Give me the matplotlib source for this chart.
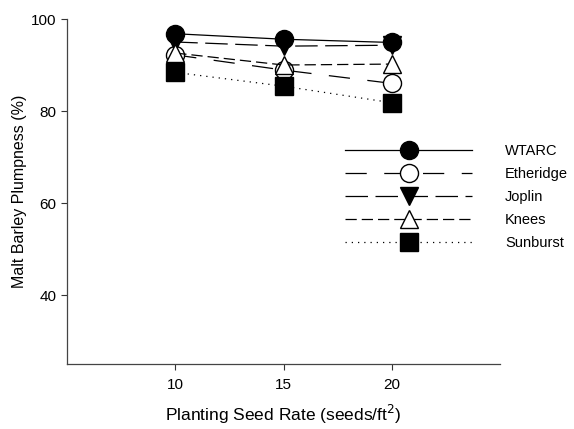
import matplotlib
matplotlib.use("Agg")
from matplotlib import pyplot as plt

plt.rcParams['font.family'] = ['Liberation Sans', 'DejaVu Sans']

rates = [10, 15, 20]
wtarc = [96.8, 95.6, 94.9]
etheridge = [92.2, 88.9, 86.0]
joplin = [95.0, 94.1, 94.3]
knees = [92.6, 90.0, 90.2]
sunburst = [88.4, 85.4, 81.8]

names = ['WTARC', 'Etheridge', 'Joplin', 'Knees', 'Sunburst']

fig = plt.figure(figsize=(5.74, 4.29), dpi=100)
ax = fig.add_axes([0.1167, 0.1515, 0.7545, 0.8042])

ms = 13
ax.plot(rates, wtarc, color='black', lw=0.9, marker='o', ms=ms,
        mfc='black', mec='black', label=names[0])
ax.plot(rates, etheridge, color='black', lw=0.9, dashes=(17, 14), marker='o', ms=ms,
        mfc='white', mec='black', label=names[1])
ax.plot(rates, joplin, color='black', lw=0.9, dashes=(18, 6), marker='v', ms=ms,
        mfc='black', mec='black', label=names[2])
ax.plot(rates, knees, color='black', lw=0.9, dashes=(9, 4), marker='^', ms=ms,
        mfc='white', mec='black', label=names[3])
ax.plot(rates, sunburst, color='black', lw=0.9, dashes=(1, 4), marker='s', ms=ms,
        mfc='black', mec='black', label=names[4])

ax.set_xlim(5, 25)
ax.set_ylim(25, 100)
ax.set_xticks([10, 15, 20])
ax.set_yticks([40, 60, 80, 100])
ax.tick_params(direction='out', length=4, width=0.8, labelsize=11, colors='#333333',
               labelcolor='black')
ax.tick_params(axis='x', pad=6)
for s in ['top', 'right']:
    ax.spines[s].set_visible(False)
for s in ['left', 'bottom']:
    ax.spines[s].set_color('#444444')
    ax.spines[s].set_linewidth(0.9)

ax.set_xlabel('Planting Seed Rate (seeds/ft$^2$)', fontsize=12.5, labelpad=8)
ax.set_ylabel('Malt Barley Plumpness (%)', fontsize=11.5, labelpad=3)

ax.legend(loc='upper left', bbox_to_anchor=(0.643, 0.638), frameon=False,
          fontsize=10.5, handlelength=8.7, handletextpad=2.25, labelspacing=0.62,
          borderpad=0, borderaxespad=0)

fig.savefig('out.png', dpi=100)
